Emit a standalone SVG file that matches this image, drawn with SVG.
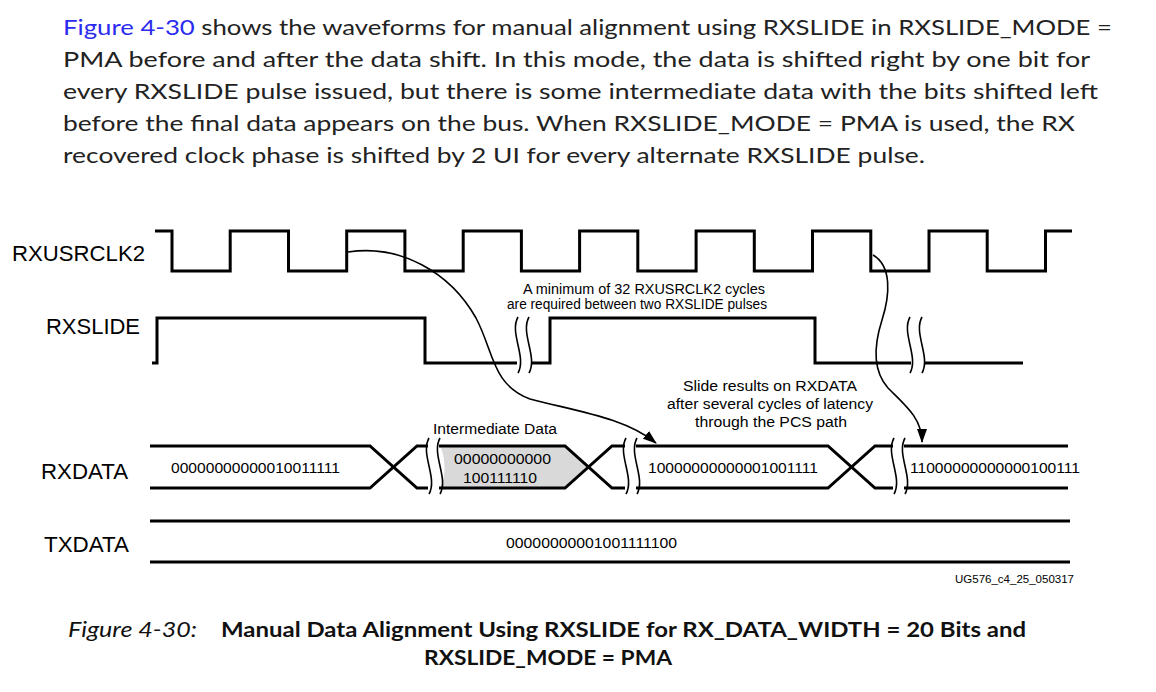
<svg xmlns="http://www.w3.org/2000/svg" xmlns:xlink="http://www.w3.org/1999/xlink" width="1156" height="692" viewBox="0 0 1156 692">
<defs>
<style>
.para{font-family:Lato,"Open Sans","Noto Sans",sans-serif;font-size:22px;fill:#222}
.lnk{fill:#2b2bf0}
.cap{font-family:Lato,"Open Sans","Noto Sans",sans-serif;font-size:21px;fill:#111}
.lbl{font-family:"Liberation Sans",Arial,sans-serif;font-size:21.5px;fill:#000}
.ann{font-family:"Liberation Sans",Arial,sans-serif;font-size:14px;fill:#000}
.dat{font-family:"Liberation Sans",Arial,sans-serif;font-size:15px;fill:#000}
.wave{fill:none;stroke:#000;stroke-width:3;stroke-linejoin:miter;stroke-linecap:butt}
.brk{fill:none;stroke:#000;stroke-width:1.6}
.arr{fill:none;stroke:#000;stroke-width:1.6}
</style>
<path id="brkS" d="M0,0 C-9,16 9,40 0,56"/>
<marker id="ah" markerWidth="14" markerHeight="10" refX="13" refY="5" orient="auto" markerUnits="userSpaceOnUse">
<path d="M0,0 L14,5 L0,10 Z" fill="#000"/>
</marker>
</defs>
<rect width="1156" height="692" fill="#fff"/>

<g id="paragraph">
<text class="para" x="63" y="35" textLength="1049" lengthAdjust="spacingAndGlyphs"><tspan class="lnk">Figure 4-30</tspan> shows the waveforms for manual alignment using RXSLIDE in RXSLIDE_MODE =</text>
<text class="para" x="63" y="67" textLength="1027" lengthAdjust="spacingAndGlyphs">PMA before and after the data shift. In this mode, the data is shifted right by one bit for</text>
<text class="para" x="63" y="99" textLength="1035" lengthAdjust="spacingAndGlyphs">every RXSLIDE pulse issued, but there is some intermediate data with the bits shifted left</text>
<text class="para" x="63" y="131" textLength="1012" lengthAdjust="spacingAndGlyphs">before the final data appears on the bus. When RXSLIDE_MODE = PMA is used, the RX</text>
<text class="para" x="63" y="163" textLength="862" lengthAdjust="spacingAndGlyphs">recovered clock phase is shifted by 2 UI for every alternate RXSLIDE pulse.</text>
</g>

<g id="labels">
<text class="lbl" x="12" y="261" textLength="133" lengthAdjust="spacingAndGlyphs">RXUSRCLK2</text>
<text class="lbl" x="46" y="334" textLength="94" lengthAdjust="spacingAndGlyphs">RXSLIDE</text>
<text class="lbl" x="41" y="479" textLength="87" lengthAdjust="spacingAndGlyphs">RXDATA</text>
<text class="lbl" x="44" y="552" textLength="85" lengthAdjust="spacingAndGlyphs">TXDATA</text>
</g>

<g id="rxusrclk2">
<path class="wave" d="M155,231 H172 V271 H230.2 V231 H288.5 V271 H346.7 V231 H404.9 V271 H463.2 V231 H521.4 V271 H579.6 V231 H637.8 V271 H696.1 V231 H754.3 V271 H812.5 V231 H870.8 V271 H929 V231 H987.2 V271 H1045.5 V231 H1072"/>
</g>

<g id="rxslide">
<path class="wave" d="M152,363 H157 V318 H425 V363 H517"/>
<path class="wave" d="M531,363 H550 V318 H815 V363 H911"/>
<path class="wave" d="M925,363 H1023"/>
<use href="#brkS" class="brk" x="518" y="317"/>
<use href="#brkS" class="brk" x="529" y="317"/>
<use href="#brkS" class="brk" x="910" y="317"/>
<use href="#brkS" class="brk" x="922" y="317"/>
</g>

<g id="rxdata">
<path d="M440,446 H565 L588,467 L565,488 H440 C446,478 446,458 440,446 Z" fill="#d9d9d9"/>
<path class="wave" d="M150,446 H370 L417,488 H428"/>
<path class="wave" d="M150,488 H370 L417,446 H428"/>
<path class="wave" d="M439,446 H565 L612,488 H625"/>
<path class="wave" d="M439,488 H565 L612,446 H625"/>
<path class="wave" d="M636,446 H828 L875,488 H893"/>
<path class="wave" d="M636,488 H828 L875,446 H893"/>
<path class="wave" d="M904,446 H1068"/>
<path class="wave" d="M904,488 H1068"/>
<use href="#brkS" class="brk" x="429" y="438"/>
<use href="#brkS" class="brk" x="440" y="438"/>
<use href="#brkS" class="brk" x="626" y="438"/>
<use href="#brkS" class="brk" x="637" y="438"/>
<use href="#brkS" class="brk" x="894" y="438"/>
<use href="#brkS" class="brk" x="905" y="438"/>
<text class="dat" x="171" y="473" textLength="169" lengthAdjust="spacingAndGlyphs">00000000000010011111</text>
<text class="dat" x="454" y="464" textLength="97" lengthAdjust="spacingAndGlyphs">00000000000</text>
<text class="dat" x="463" y="483" textLength="74" lengthAdjust="spacingAndGlyphs">100111110</text>
<text class="dat" x="648" y="473" textLength="170" lengthAdjust="spacingAndGlyphs">10000000000001001111</text>
<text class="dat" x="910" y="473" textLength="170" lengthAdjust="spacingAndGlyphs">11000000000000100111</text>
</g>

<g id="txdata">
<path class="wave" d="M150,521 H1070"/>
<path class="wave" d="M150,562 H1070"/>
<text class="dat" x="506" y="548" textLength="171" lengthAdjust="spacingAndGlyphs">00000000001001111100</text>
</g>

<g id="annotations">
<text class="ann" x="523" y="294" textLength="242" lengthAdjust="spacingAndGlyphs">A minimum of 32 RXUSRCLK2 cycles</text>
<text class="ann" x="507" y="309" textLength="260" lengthAdjust="spacingAndGlyphs">are required between two RXSLIDE pulses</text>
<text class="ann" x="433" y="434" textLength="124" lengthAdjust="spacingAndGlyphs">Intermediate Data</text>
<text class="ann" x="683" y="391" textLength="174" lengthAdjust="spacingAndGlyphs">Slide results on RXDATA</text>
<text class="ann" x="667" y="409" textLength="206" lengthAdjust="spacingAndGlyphs">after several cycles of latency</text>
<text class="ann" x="695" y="427" textLength="152" lengthAdjust="spacingAndGlyphs">through the PCS path</text>
<text x="955" y="583" font-family="'Liberation Sans',Arial,sans-serif" font-size="10px" textLength="119" lengthAdjust="spacingAndGlyphs">UG576_c4_25_050317</text>
</g>

<g id="connectors">
<path class="arr" marker-end="url(#ah)" d="M348,252 C400,244 450,272 476,318 C494,352 492,385 530,399 C580,412 625,418 656,443"/>
<path class="arr" marker-end="url(#ah)" d="M873,255 C892,266 890,295 882,320 C874,345 872,370 888,388 C905,405 922,418 922,442"/>
</g>

<g id="caption">
<text class="cap" x="68" y="637" font-style="italic" textLength="129" lengthAdjust="spacingAndGlyphs">Figure 4-30:</text>
<text class="cap" x="221" y="637" font-weight="bold" textLength="805" lengthAdjust="spacingAndGlyphs">Manual Data Alignment Using RXSLIDE for RX_DATA_WIDTH = 20 Bits and</text>
<text class="cap" x="424" y="665" font-weight="bold" textLength="248" lengthAdjust="spacingAndGlyphs">RXSLIDE_MODE = PMA</text>
</g>
</svg>
